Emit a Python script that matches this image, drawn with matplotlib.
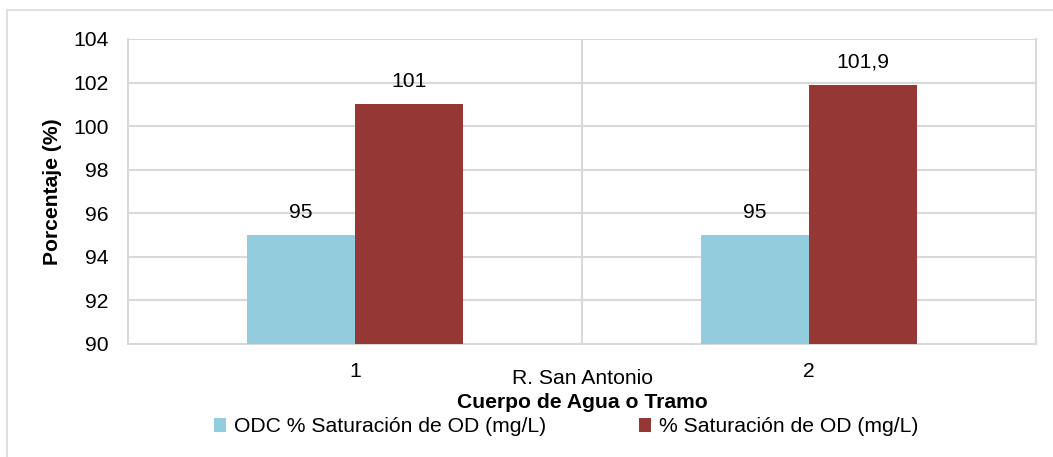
import matplotlib
matplotlib.use("Agg")
import matplotlib.pyplot as plt
from matplotlib.patches import Patch, Rectangle
import numpy as np

plt.rcParams['font.family'] = ['Liberation Sans', 'DejaVu Sans']

categories = ["1", "2"]
group_label = "R. San Antonio"
series_names = ["ODC % Saturación de OD (mg/L)", "% Saturación de OD (mg/L)"]
odc_values = [95, 95]
sat_values = [101, 101.9]
odc_labels = ["95", "95"]
sat_labels = ["101", "101,9"]
y_ticks = [90, 92, 94, 96, 98, 100, 102, 104]

blue = "#93CDDD"
red = "#953735"
grid_c = "#D9D9D9"
FS = 15.2

W, H = 1053, 457
fig = plt.figure(figsize=(W / 100, H / 100), dpi=100)
fig.patches.append(Rectangle((7 / W, -0.1), 1.2, (H - 10) / H + 0.1, transform=fig.transFigure,
                             fill=False, edgecolor=grid_c, linewidth=1.2))

ax = fig.add_axes([128 / W, 1 - 344 / H, (1036 - 128) / W, (344 - 39) / H])
x = np.arange(len(categories))
bw = 0.238
ax.bar(x - bw / 2, [v - 90 for v in odc_values], bw, bottom=90, color=blue, zorder=3)
ax.bar(x + bw / 2, [v - 90 for v in sat_values], bw, bottom=90, color=red, zorder=3)

for xi, v, lab in zip(x, odc_values, odc_labels):
    ax.annotate(lab, (xi - bw / 2, v), xytext=(0, 23), textcoords="offset pixels",
                ha="center", va="center", fontsize=FS, color="#000000")
for xi, v, lab in zip(x, sat_values, sat_labels):
    ax.annotate(lab, (xi + bw / 2, v), xytext=(0, 23), textcoords="offset pixels",
                ha="center", va="center", fontsize=FS, color="#000000")

ax.set_xlim(-0.5, 1.5)
ax.set_ylim(90, 104)
ax.set_yticks(y_ticks)
ax.set_yticklabels([str(t) for t in y_ticks], fontsize=FS)
ax.set_xticks(x)
ax.set_xticklabels(categories, fontsize=FS)
ax.tick_params(axis="both", length=0)
ax.tick_params(axis="y", pad=14)
ax.tick_params(axis="x", pad=13)
ax.yaxis.grid(True, color=grid_c, linewidth=1.5, zorder=0)
ax.axvline(0.5, color=grid_c, linewidth=1.5, zorder=1)
for s in ax.spines.values():
    s.set_color(grid_c)
    s.set_linewidth(1.5)
ax.spines["top"].set_visible(False)

ax.set_ylabel("Porcentaje (%)", fontsize=FS, fontweight="bold", labelpad=8)

ax.text(0.5, (344 - 378) / 305, group_label, transform=ax.transAxes,
        ha="center", va="center", fontsize=FS)
ax.text(0.5, (344 - 402) / 305, "Cuerpo de Agua o Tramo", transform=ax.transAxes,
        ha="center", va="center", fontsize=FS, fontweight="bold")

handles = [Patch(facecolor=blue, edgecolor="none"), Patch(facecolor=red, edgecolor="none")]
fig.legend(handles, series_names, loc="center", bbox_to_anchor=(566 / W, 1 - 427 / H),
           ncol=2, frameon=False, fontsize=FS, handlelength=0.6, handleheight=0.6,
           handletextpad=0.35, columnspacing=4.4, borderaxespad=0, borderpad=0)

fig.savefig("out.png", dpi=100)
